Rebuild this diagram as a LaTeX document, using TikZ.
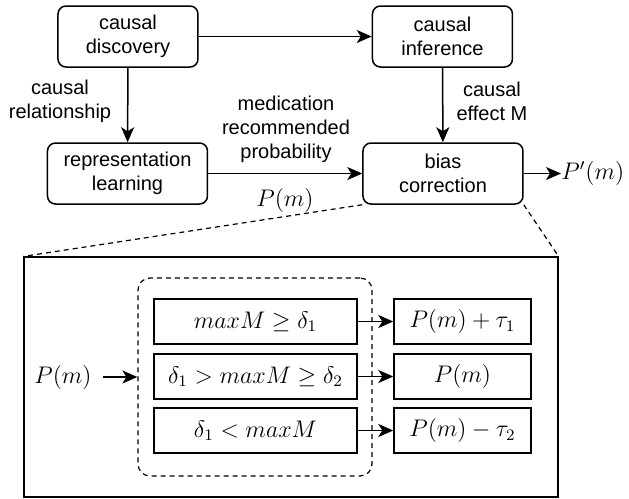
\documentclass[tikz,border=0pt]{standalone}
\usepackage{fontspec}
\setmainfont{Liberation Sans}
\usetikzlibrary{arrows.meta}
\tikzset{
  block/.style={draw, line width=0.75pt, rounded corners=4pt, align=center,
    minimum width=70pt, minimum height=30.5pt, inner sep=1pt},
  rule/.style={draw, line width=0.7pt, minimum width=101.5pt,
    minimum height=22.5pt, inner sep=1pt, font=\large},
  result/.style={rule, minimum width=68.5pt},
  note/.style={align=center, inner sep=0pt},
  flow/.style={-{Stealth[length=7.5pt,width=6.5pt,inset=2pt]}, line width=0.75pt},
  hint/.style={line width=0.6pt, dash pattern=on 2.5pt off 2pt},
}
\begin{document}
\begin{tikzpicture}[x=0.5pt, y=-0.5pt]
  \useasboundingbox (0,0) rectangle (629,499);
  \draw
    (128,36.5) node[block] (disc){causal\\discovery}
    (442.5,36.5) node[block] (inf){causal\\inference}
    (127.5,173.5) node[block, minimum width=80pt] (rep){representation\\learning}
    (443,173.5) node[block, minimum width=80pt] (bias){bias\\correction}
    (561,173.5) node[note, anchor=west, font=\large] (out){$P'(m)$}
    (60,101) node[note] (rel){causal\\relationship}
    (492,101) node[note] (eff){causal\\effect M}
    (286,129.5) node[note] (prob){medication\\recommended\\probability}
    (285,200) node[note, font=\large] (pm){$P(m)$};
  % zoomed view of the bias correction
  \draw
    (291,377) node[draw, line width=0.6pt, minimum width=267pt, minimum height=120pt] (zoom){}
    (255,377) node[draw, hint, rounded corners=6pt, minimum width=117pt, minimum height=99pt] (group){}
    (63,377) node[note, inner sep=5.5pt, font=\large] (in){$P(m)$}
    (255.5,321.5) node[rule] (c1){$maxM \geq \delta_1$}
    (255.5,376.5) node[rule] (c2){$\delta_1 > maxM \geq \delta_2$}
    (255.5,430.5) node[rule] (c3){$\delta_1 < maxM$}
    (462.5,321.5) node[result] (r1){$P(m)+\tau_1$}
    (462.5,376.5) node[result] (r2){$P(m)$}
    (462.5,430.5) node[result] (r3){$P(m)-\tau_2$};
  \begin{scope}[flow]
    \draw (disc) to (inf);
    \draw (disc) to (rep);
    \draw (inf) to (bias);
    \draw (rep) to (bias);
    \draw (bias) to (out);
    \draw (in) to (group);
    \draw (c1) to (r1);
    \draw (c2) to (r2);
    \draw (c3) to (r3);
  \end{scope}
  \draw[hint] (bias.south west) -- (zoom.north west);
  \draw[hint] (bias.south east) -- (zoom.north east);
\end{tikzpicture}
\end{document}
